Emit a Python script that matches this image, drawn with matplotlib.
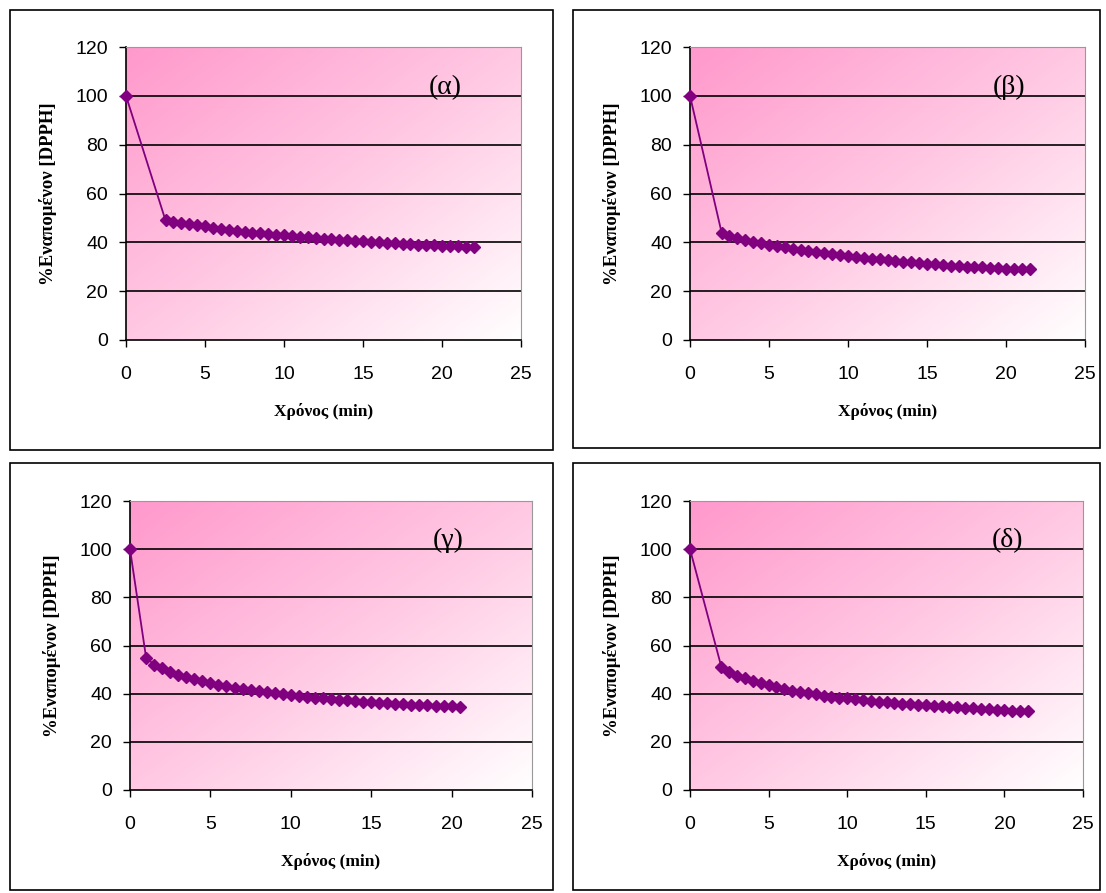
import numpy as np
import matplotlib
matplotlib.use("Agg")
import matplotlib.pyplot as plt
from matplotlib.patches import Rectangle
from matplotlib.colors import LinearSegmentedColormap

# ---- data ----
x_a = [0, 2.5, 3.0, 3.5, 4.0, 4.5, 5.0, 5.5, 6.0, 6.5, 7.0, 7.5, 8.0, 8.5, 9.0, 9.5, 10.0, 10.5, 11.0, 11.5,
       12.0, 12.5, 13.0, 13.5, 14.0, 14.5, 15.0, 15.5, 16.0, 16.5, 17.0, 17.5, 18.0, 18.5, 19.0, 19.5,
       20.0, 20.5, 21.0, 21.5, 22.0]
y_a = [100, 49, 48.5, 48, 47.5, 47, 46.5, 46, 45.5, 45.2, 44.8, 44.4, 44, 43.7, 43.4, 43.1, 42.8, 42.5, 42.2,
       42, 41.7, 41.5, 41.2, 41, 40.8, 40.6, 40.4, 40.2, 40, 39.8, 39.6, 39.4, 39.3, 39.1, 39, 38.8, 38.7,
       38.5, 38.4, 38.2, 38.0]

x_b = [0, 2.0, 2.5, 3.0, 3.5, 4.0, 4.5, 5.0, 5.5, 6.0, 6.5, 7.0, 7.5, 8.0, 8.5, 9.0, 9.5, 10.0, 10.5, 11.0,
       11.5, 12.0, 12.5, 13.0, 13.5, 14.0, 14.5, 15.0, 15.5, 16.0, 16.5, 17.0, 17.5, 18.0, 18.5, 19.0,
       19.5, 20.0, 20.5, 21.0, 21.5]
y_b = [100, 44, 42.5, 41.8, 41, 40.3, 39.7, 39, 38.5, 37.9, 37.4, 36.9, 36.4, 36, 35.5, 35.1, 34.7, 34.3, 34,
       33.6, 33.3, 33, 32.7, 32.4, 32.1, 31.8, 31.5, 31.3, 31, 30.8, 30.5, 30.3, 30.1, 29.9, 29.7, 29.5,
       29.4, 29.2, 29.1, 29, 28.9]

x_c = [0, 1.0, 1.5, 2.0, 2.5, 3.0, 3.5, 4.0, 4.5, 5.0, 5.5, 6.0, 6.5, 7.0, 7.5, 8.0, 8.5, 9.0, 9.5, 10.0,
       10.5, 11.0, 11.5, 12.0, 12.5, 13.0, 13.5, 14.0, 14.5, 15.0, 15.5, 16.0, 16.5, 17.0, 17.5, 18.0,
       18.5, 19.0, 19.5, 20.0, 20.5]
y_c = [100, 55, 52, 50.5, 49, 47.8, 46.8, 45.9, 45.1, 44.4, 43.7, 43.1, 42.5, 42, 41.5, 41, 40.6, 40.2, 39.8,
       39.4, 39, 38.7, 38.4, 38.1, 37.8, 37.5, 37.2, 37, 36.7, 36.5, 36.3, 36.1, 35.9, 35.7, 35.5, 35.3,
       35.1, 35, 34.8, 34.7, 34.5]

x_d = [0, 2.0, 2.5, 3.0, 3.5, 4.0, 4.5, 5.0, 5.5, 6.0, 6.5, 7.0, 7.5, 8.0, 8.5, 9.0, 9.5, 10.0, 10.5, 11.0,
       11.5, 12.0, 12.5, 13.0, 13.5, 14.0, 14.5, 15.0, 15.5, 16.0, 16.5, 17.0, 17.5, 18.0, 18.5, 19.0,
       19.5, 20.0, 20.5, 21.0, 21.5]
y_d = [100, 51, 49, 47.5, 46.3, 45.2, 44.3, 43.5, 42.7, 42, 41.3, 40.7, 40.2, 39.7, 39.2, 38.8, 38.4, 38,
       37.6, 37.3, 37, 36.7, 36.4, 36.1, 35.8, 35.6, 35.3, 35.1, 34.9, 34.7, 34.5, 34.3, 34.1, 33.9, 33.7,
       33.5, 33.3, 33.2, 33, 32.8, 32.6]

panel_labels = ["(α)", "(β)", "(γ)", "(δ)"]
y_ticks = [0, 20, 40, 60, 80, 100, 120]
x_ticks = [0, 5, 10, 15, 20, 25]
xlabel = "Χρόνος (min)"
ylabel = "%Εναπομένον [DPPH]"

W, H = 1106, 893
fig = plt.figure(figsize=(W / 100, H / 100), dpi=100)

def px_rect(l, t, r, b):
    return [l / W, 1 - b / H, (r - l) / W, (b - t) / H]

# outer frames
frames = [(10, 10, 553, 450), (573, 10, 1100, 448), (10, 463, 553, 890), (573, 463, 1100, 890)]
for (l, t, r, b) in frames:
    fig.patches.append(Rectangle((l / W, 1 - b / H), (r - l) / W, (b - t) / H,
                                 transform=fig.transFigure, fill=False, edgecolor="black",
                                 linewidth=1.2))

axes_px = [(126, 47, 521, 340), (690, 47, 1085, 340), (130, 501, 532, 790), (690, 501, 1083, 790)]
label_pos = [(20.2, 103.5), (20.2, 103.5), (19.8, 103.5), (20.2, 103.5)]

cmap = LinearSegmentedColormap.from_list("pk", ["#ff99cc", "#ffc8e3", "#ffffff"])
gy, gx = np.mgrid[0:1:200j, 0:1:200j]
grad = (gx + gy) / 2.0

series = [(x_a, y_a), (x_b, y_b), (x_c, y_c), (x_d, y_d)]
for i, ((xs, ys), rect) in enumerate(zip(series, axes_px)):
    ax = fig.add_axes(px_rect(*rect))
    ax.imshow(grad, cmap=cmap, extent=[0, 1, 0, 1], transform=ax.transAxes,
              aspect="auto", zorder=0, origin="upper")
    ax.set_xlim(0, 25)
    ax.set_ylim(0, 120)
    ax.set_yticks(y_ticks)
    ax.set_xticks(x_ticks)
    for yv in y_ticks[1:]:
        ax.axhline(yv, color="black", linewidth=1.2, zorder=1)
    ax.plot(xs, ys, color="#800080", linewidth=1.3, marker="D", markersize=6.5,
            markerfacecolor="#800080", markeredgecolor="#800080", zorder=3, clip_on=False)
    for s in ["top", "right"]:
        ax.spines[s].set_color("#999999")
    for s in ["left", "bottom"]:
        ax.spines[s].set_color("black")
        ax.spines[s].set_linewidth(1.2)
    ax.tick_params(axis="both", direction="out", length=5, width=1.0,
                   labelsize=14, colors="black")
    ax.tick_params(axis="x", pad=14)
    ax.tick_params(axis="y", pad=8)
    for lab in ax.get_xticklabels() + ax.get_yticklabels():
        lab.set_family("Liberation Sans")
    ax.set_xlabel(xlabel, family="Liberation Serif", fontweight="bold", fontsize=12.5, labelpad=14)
    ax.set_ylabel(ylabel, family="Liberation Serif", fontweight="bold", fontsize=13.5, labelpad=13)
    ax.text(label_pos[i][0], label_pos[i][1], panel_labels[i], family="Liberation Serif",
            fontsize=20, ha="center", va="center", zorder=4)

fig.savefig("out.png", dpi=100)
